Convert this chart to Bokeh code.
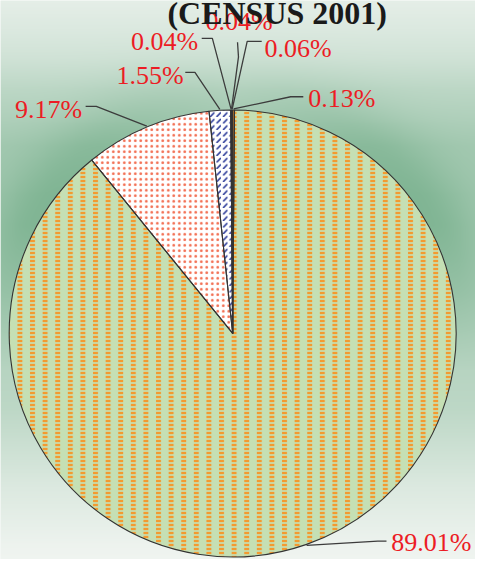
import numpy as np
from bokeh.plotting import figure
from bokeh.models import ColumnDataSource, Range1d
from bokeh.core.properties import value
from bokeh.embed import file_html
from bokeh.resources import INLINE

# ---------------- data (clockwise from 12 o'clock) ----------------
shares = [0.13, 89.01, 9.17, 1.55, 0.04, 0.04, 0.06]
share_labels = ["0.13%", "89.01%", "9.17%", "1.55%", "0.04%", "0.04%", "0.06%"]
title_text = "(CENSUS 2001)"

# ---------------- layout (reference pixel space, y downwards) ----------------
W_REF, H_REF = 491, 575
PW, PH = 475, 559
CX, CY, R = 240.0, 342.5, 231.0
SERIF = "Liberation Serif"

def Y(y):
    return H_REF - y

label_x = [318, 404, 15, 120, 135, 212, 273]
label_y = [101, 558, 112, 77, 42, 22, 49]
lead_start = [(313, 99), (399, 556), (88, 109), (191, 74), (208, 39), (245, 43), (270, 42)]
lead_elbow = [(300, 99), (390, 556), (99, 109), (201, 74), (219, 39), (246, 58), (255, 42)]

fills = ["#c5e0b4", "#c5e0b4", "#ffffff", "#ffffff", "#d9d9f0", "#d9d9f0", "#d9d9f0"]
hatches = ["vertical_line", "vertical_line", "dot", "right_diagonal_dash", " ", " ", " "]
hatch_cols = ["#f39a30", "#f39a30", "#f26b4e", "#2b3a98", "#2b3a98", "#2b3a98", "#2b3a98"]
hatch_scales = [12.6, 12.6, 5.5, 6.5, 6, 6, 6]
hatch_weights = [5.0, 5.0, 1.2, 1.6, 1, 1, 1]

# background vertical profile (style only)
bg_prof_y = [0, 30, 60, 90, 150, 200, 300, 420, 500, 560, 575]
bg_prof_t = [0.12, 0.2, 0.3, 0.46, 0.68, 0.70, 0.62, 0.46, 0.2, 0.05, 0.03]

# ---------------- figure ----------------
p = figure(width=PW, height=PH, x_range=Range1d(0, W_REF), y_range=Range1d(0, H_REF),
           output_backend="svg", toolbar_location=None, min_border=0,
           x_axis_type=None, y_axis_type=None)
p.grid.visible = False
p.outline_line_color = None
p.background_fill_color = "#eef3ef"
p.border_fill_color = "#eef3ef"

# background gradient / glow (per-pixel colour image)
step = 1
gx = np.arange(0, W_REF, step) + step / 2
gy_data = np.arange(0, H_REF, step) + step / 2
XX, YD = np.meshgrid(gx, gy_data)
YY = H_REF - YD
dist = np.hypot(XX - CX, YY - CY)
ang = np.arctan2(XX - CX, -(YY - CY))
base = np.interp(YY, bg_prof_y, bg_prof_t)
hfade = np.clip((380 - YY) / 150.0, 0, 1)
glow = 0.32 * np.exp(-((dist - R) / 45.0) ** 2) * (0.3 + 0.7 * np.abs(np.sin(ang))) * hfade
t = np.clip(base + glow, 0, 1)
c0 = np.array([243, 246, 243], dtype=float)
c1 = np.array([125, 179, 145], dtype=float)
ny, nx = t.shape
rgba = np.zeros((ny, nx, 4), dtype=np.uint8)
for k in range(3):
    rgba[:, :, k] = np.round(c0[k] + (c1[k] - c0[k]) * t).astype(np.uint8)
rgba[:, :, 3] = 255
img = rgba.view(dtype=np.uint32).reshape((ny, nx))
p.image_rgba(image=[img], x=0, y=0, dw=W_REF, dh=H_REF)

# pie wedges
vals = np.array(shares, dtype=float)
cum = np.concatenate([[0], np.cumsum(vals)]) / vals.sum()
start = np.pi / 2 - 2 * np.pi * cum[:-1]
end = np.pi / 2 - 2 * np.pi * cum[1:]
src = ColumnDataSource(dict(x=[CX] * len(vals), y=[Y(CY)] * len(vals), start=start, end=end,
                            fill=fills, hatch=hatches, hcol=hatch_cols,
                            hscale=hatch_scales, hweight=hatch_weights))
p.wedge(x="x", y="y", radius=R, start_angle="start", end_angle="end", direction="clock",
        source=src, fill_color="fill", hatch_pattern="hatch", hatch_color="hcol",
        hatch_scale="hscale", hatch_weight="hweight", line_color=None)
# break the orange stripes of the main slice into dashes
big = int(np.argmax(vals))
p.wedge(x=CX, y=Y(CY), radius=R, start_angle=start[big], end_angle=end[big], direction="clock",
        fill_alpha=0, hatch_pattern="horizontal_line", hatch_color="#c5e0b4",
        hatch_scale=4, hatch_weight=1.7, line_color=None)
# outlines
p.wedge(x="x", y="y", radius=R, start_angle="start", end_angle="end", direction="clock",
        source=src, fill_alpha=0, line_color="#333333", line_width=1.1)

# leader lines
mid = 2 * np.pi * (cum[:-1] + cum[1:]) / 2
px = CX + R * np.sin(mid)
py = CY - R * np.cos(mid)
xs, ys = [], []
for i in range(len(vals)):
    (sx, sy), (ex, ey) = lead_start[i], lead_elbow[i]
    xs.append([sx, ex, px[i]])
    ys.append([Y(sy), Y(ey), Y(py[i])])
p.multi_line(xs=xs, ys=ys, line_color="#3c3c3c", line_width=1.3)

# labels
p.text(x=label_x, y=[Y(v) for v in label_y], text=share_labels,
       text_font=value(SERIF), text_font_size="26px", text_color="#ec1c24",
       text_align="left", text_baseline="middle")

# title (cut at the top edge, as in the reference)
p.text(x=[286], y=[Y(13)], text=[title_text], text_font=value(SERIF),
       text_font_size="32px", text_font_style="bold", text_color="#1a1a1a",
       text_align="center", text_baseline="alphabetic")

open("out.html", "w").write(file_html(p, INLINE))
